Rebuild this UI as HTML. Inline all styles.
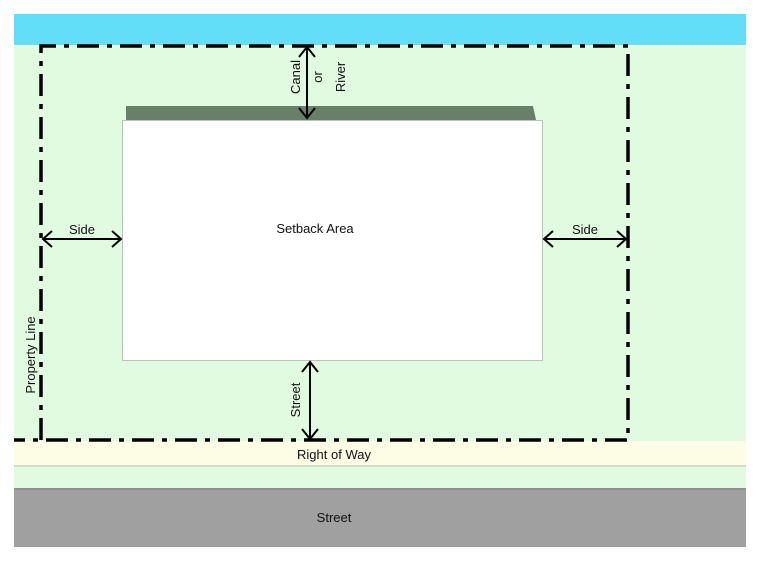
<!DOCTYPE html>
<html><head><meta charset="utf-8"><style>
html,body{margin:0;padding:0;background:#fff;width:763px;height:562px;overflow:hidden}
svg{display:block}
text{font-family:"Liberation Sans",Arial,sans-serif;font-size:13px;fill:#111}
</style></head><body>
<svg width="763" height="562" viewBox="0 0 763 562">
<rect x="14" y="14" width="732" height="32" fill="#63def9"/>
<rect x="14" y="45" width="732" height="396" fill="#e0fbe0"/>
<rect x="14" y="441" width="732" height="25" fill="#fdfde6"/>
<line x1="14" y1="466" x2="746" y2="466" stroke="#c8cfc0" stroke-width="1.5"/>
<rect x="14" y="467" width="732" height="21" fill="#e0fbe0"/>
<rect x="14" y="488" width="732" height="59" fill="#a0a0a0"/>
<line x1="14" y1="489" x2="746" y2="489" stroke="#8a8a8a" stroke-width="1.5"/>
<polygon points="126,106 533,106 536,120 126,120" fill="#68806a"/>
<rect x="122.5" y="120.5" width="420" height="240" fill="#fff" stroke="#b8c4b8" stroke-width="1"/>
<g fill="none" stroke="#000" stroke-width="3.5" stroke-dasharray="22,8,5,8">
<path d="M41,440 L41,46 L628,46 L628,440 L14,440"/>
</g>
<g fill="none" stroke="#000" stroke-width="2">
<line x1="307" y1="48" x2="307" y2="118"/>
<polyline points="299,57 307,47 315,57"/><polyline points="299,108 307,118 315,108"/>
<line x1="43" y1="239" x2="121" y2="239"/>
<polyline points="52,231 43,239 52,247"/><polyline points="112,231 121,239 112,247"/>
<line x1="544" y1="239" x2="626" y2="239"/>
<polyline points="553,231 544,239 553,247"/><polyline points="617,231 626,239 617,247"/>
<line x1="310" y1="362" x2="310" y2="439"/>
<polyline points="302,372 310,362 318,372"/><polyline points="302,429 310,439 318,429"/>
</g>
<text x="315" y="233" text-anchor="middle">Setback Area</text>
<text x="82" y="234" text-anchor="middle">Side</text>
<text x="585" y="234" text-anchor="middle">Side</text>
<text x="334" y="459" text-anchor="middle">Right of Way</text>
<text x="334" y="522" text-anchor="middle">Street</text>
<text transform="translate(300,77) rotate(-90)" text-anchor="middle">Canal</text>
<text transform="translate(322,77) rotate(-90)" text-anchor="middle">or</text>
<text transform="translate(345,77) rotate(-90)" text-anchor="middle">River</text>
<text transform="translate(300,400) rotate(-90)" text-anchor="middle">Street</text>
<text transform="translate(35,355) rotate(-90)" text-anchor="middle">Property Line</text>
</svg>
</body></html>
